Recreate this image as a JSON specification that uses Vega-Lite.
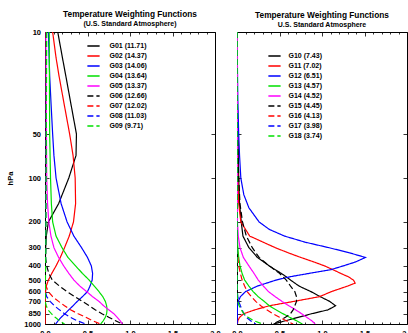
{
  "$schema": "https://vega.github.io/schema/vega-lite/v6.json",
  "background": "white",
  "padding": {"left": 6, "top": 9, "right": 0, "bottom": 0},
  "spacing": 22,
  "bounds": "flush",
  "config": {
    "font": "Liberation Sans",
    "view": {"stroke": "black", "strokeWidth": 1},
    "axis": {"grid": false, "domain": false, "tickColor": "black", "tickWidth": 0.8, "labelColor": "black", "labelFont": "Liberation Sans", "labelFontWeight": "bold", "labelFontSize": 7.5, "titleFont": "Liberation Sans", "titleFontSize": 7.5, "titleFontWeight": "bold", "titleColor": "black"},
    "title": {"font": "Liberation Sans", "fontSize": 8.3, "fontWeight": "bold", "color": "black", "subtitleFont": "Liberation Sans", "subtitleFontSize": 7, "subtitleFontWeight": "bold", "subtitleColor": "black", "subtitlePadding": 2, "offset": 1, "anchor": "middle"},
    "legend": {"labelFont": "Liberation Sans", "labelFontSize": 7, "labelFontWeight": "bold", "labelColor": "black", "symbolType": "stroke", "symbolStrokeWidth": 1.5}
  },
  "datasets": {
    "left": [
      {"c":"G01 (11.71)","p":10,"w":0.15},{"c":"G01 (11.71)","p":15,"w":0.205},{"c":"G01 (11.71)","p":20,"w":0.245},{"c":"G01 (11.71)","p":30,"w":0.3},{"c":"G01 (11.71)","p":50,"w":0.37},{"c":"G01 (11.71)","p":70,"w":0.365},{"c":"G01 (11.71)","p":100,"w":0.28},{"c":"G01 (11.71)","p":150,"w":0.16},{"c":"G01 (11.71)","p":200,"w":0.04},{"c":"G01 (11.71)","p":250,"w":0.015},{"c":"G01 (11.71)","p":300,"w":0.008},{"c":"G01 (11.71)","p":400,"w":0.003},{"c":"G01 (11.71)","p":1000,"w":0.001},
      {"c":"G02 (14.37)","p":10,"w":0.09},{"c":"G02 (14.37)","p":15,"w":0.13},{"c":"G02 (14.37)","p":20,"w":0.165},{"c":"G02 (14.37)","p":30,"w":0.22},{"c":"G02 (14.37)","p":50,"w":0.29},{"c":"G02 (14.37)","p":70,"w":0.33},{"c":"G02 (14.37)","p":100,"w":0.355},{"c":"G02 (14.37)","p":150,"w":0.36},{"c":"G02 (14.37)","p":200,"w":0.335},{"c":"G02 (14.37)","p":250,"w":0.285},{"c":"G02 (14.37)","p":300,"w":0.23},{"c":"G02 (14.37)","p":350,"w":0.18},{"c":"G02 (14.37)","p":400,"w":0.13},{"c":"G02 (14.37)","p":450,"w":0.08},{"c":"G02 (14.37)","p":500,"w":0.04},{"c":"G02 (14.37)","p":550,"w":0.015},{"c":"G02 (14.37)","p":600,"w":0.007},{"c":"G02 (14.37)","p":700,"w":0.003},{"c":"G02 (14.37)","p":1000,"w":0.002},
      {"c":"G03 (14.06)","p":10,"w":0.04},{"c":"G03 (14.06)","p":20,"w":0.055},{"c":"G03 (14.06)","p":30,"w":0.07},{"c":"G03 (14.06)","p":50,"w":0.09},{"c":"G03 (14.06)","p":70,"w":0.105},{"c":"G03 (14.06)","p":100,"w":0.13},{"c":"G03 (14.06)","p":150,"w":0.19},{"c":"G03 (14.06)","p":200,"w":0.26},{"c":"G03 (14.06)","p":250,"w":0.34},{"c":"G03 (14.06)","p":300,"w":0.43},{"c":"G03 (14.06)","p":350,"w":0.5},{"c":"G03 (14.06)","p":400,"w":0.545},{"c":"G03 (14.06)","p":450,"w":0.56},{"c":"G03 (14.06)","p":500,"w":0.555},{"c":"G03 (14.06)","p":550,"w":0.53},{"c":"G03 (14.06)","p":600,"w":0.5},{"c":"G03 (14.06)","p":650,"w":0.44},{"c":"G03 (14.06)","p":700,"w":0.38},{"c":"G03 (14.06)","p":750,"w":0.33},{"c":"G03 (14.06)","p":800,"w":0.28},{"c":"G03 (14.06)","p":850,"w":0.235},{"c":"G03 (14.06)","p":900,"w":0.19},{"c":"G03 (14.06)","p":950,"w":0.155},{"c":"G03 (14.06)","p":1000,"w":0.125},
      {"c":"G04 (13.64)","p":10,"w":0.05},{"c":"G04 (13.64)","p":50,"w":0.055},{"c":"G04 (13.64)","p":100,"w":0.065},{"c":"G04 (13.64)","p":150,"w":0.075},{"c":"G04 (13.64)","p":200,"w":0.09},{"c":"G04 (13.64)","p":250,"w":0.13},{"c":"G04 (13.64)","p":300,"w":0.2},{"c":"G04 (13.64)","p":350,"w":0.27},{"c":"G04 (13.64)","p":400,"w":0.36},{"c":"G04 (13.64)","p":450,"w":0.44},{"c":"G04 (13.64)","p":500,"w":0.52},{"c":"G04 (13.64)","p":550,"w":0.58},{"c":"G04 (13.64)","p":600,"w":0.635},{"c":"G04 (13.64)","p":650,"w":0.68},{"c":"G04 (13.64)","p":700,"w":0.71},{"c":"G04 (13.64)","p":750,"w":0.725},{"c":"G04 (13.64)","p":800,"w":0.73},{"c":"G04 (13.64)","p":850,"w":0.725},{"c":"G04 (13.64)","p":900,"w":0.71},{"c":"G04 (13.64)","p":950,"w":0.685},{"c":"G04 (13.64)","p":1000,"w":0.655},
      {"c":"G05 (13.37)","p":10,"w":0.01},{"c":"G05 (13.37)","p":100,"w":0.02},{"c":"G05 (13.37)","p":150,"w":0.03},{"c":"G05 (13.37)","p":200,"w":0.045},{"c":"G05 (13.37)","p":250,"w":0.07},{"c":"G05 (13.37)","p":300,"w":0.105},{"c":"G05 (13.37)","p":350,"w":0.16},{"c":"G05 (13.37)","p":400,"w":0.22},{"c":"G05 (13.37)","p":450,"w":0.28},{"c":"G05 (13.37)","p":500,"w":0.34},{"c":"G05 (13.37)","p":550,"w":0.41},{"c":"G05 (13.37)","p":600,"w":0.49},{"c":"G05 (13.37)","p":650,"w":0.56},{"c":"G05 (13.37)","p":700,"w":0.635},{"c":"G05 (13.37)","p":750,"w":0.69},{"c":"G05 (13.37)","p":800,"w":0.75},{"c":"G05 (13.37)","p":850,"w":0.81},{"c":"G05 (13.37)","p":900,"w":0.85},{"c":"G05 (13.37)","p":950,"w":0.885},{"c":"G05 (13.37)","p":1000,"w":0.91},
      {"c":"G06 (12.66)","p":10,"w":0.005},{"c":"G06 (12.66)","p":350,"w":0.005},{"c":"G06 (12.66)","p":400,"w":0.02},{"c":"G06 (12.66)","p":450,"w":0.045},{"c":"G06 (12.66)","p":500,"w":0.085},{"c":"G06 (12.66)","p":550,"w":0.17},{"c":"G06 (12.66)","p":600,"w":0.26},{"c":"G06 (12.66)","p":650,"w":0.35},{"c":"G06 (12.66)","p":700,"w":0.44},{"c":"G06 (12.66)","p":750,"w":0.52},{"c":"G06 (12.66)","p":800,"w":0.59},{"c":"G06 (12.66)","p":850,"w":0.67},{"c":"G06 (12.66)","p":900,"w":0.75},{"c":"G06 (12.66)","p":950,"w":0.83},{"c":"G06 (12.66)","p":1000,"w":0.91},
      {"c":"G07 (12.02)","p":10,"w":0.01},{"c":"G07 (12.02)","p":300,"w":0.006},{"c":"G07 (12.02)","p":500,"w":0.003},{"c":"G07 (12.02)","p":550,"w":0.012},{"c":"G07 (12.02)","p":600,"w":0.04},{"c":"G07 (12.02)","p":650,"w":0.09},{"c":"G07 (12.02)","p":700,"w":0.16},{"c":"G07 (12.02)","p":750,"w":0.23},{"c":"G07 (12.02)","p":800,"w":0.3},{"c":"G07 (12.02)","p":850,"w":0.39},{"c":"G07 (12.02)","p":900,"w":0.48},{"c":"G07 (12.02)","p":950,"w":0.56},{"c":"G07 (12.02)","p":1000,"w":0.65},
      {"c":"G08 (11.03)","p":10,"w":0.015},{"c":"G08 (11.03)","p":300,"w":0.008},{"c":"G08 (11.03)","p":600,"w":0.003},{"c":"G08 (11.03)","p":650,"w":0.02},{"c":"G08 (11.03)","p":700,"w":0.06},{"c":"G08 (11.03)","p":750,"w":0.11},{"c":"G08 (11.03)","p":800,"w":0.17},{"c":"G08 (11.03)","p":850,"w":0.23},{"c":"G08 (11.03)","p":900,"w":0.3},{"c":"G08 (11.03)","p":950,"w":0.38},{"c":"G08 (11.03)","p":1000,"w":0.48},
      {"c":"G09 (9.71)","p":10,"w":0.02},{"c":"G09 (9.71)","p":300,"w":0.01},{"c":"G09 (9.71)","p":700,"w":0.002},{"c":"G09 (9.71)","p":750,"w":0.015},{"c":"G09 (9.71)","p":800,"w":0.035},{"c":"G09 (9.71)","p":850,"w":0.075},{"c":"G09 (9.71)","p":900,"w":0.12},{"c":"G09 (9.71)","p":950,"w":0.17},{"c":"G09 (9.71)","p":1000,"w":0.23}
    ],
    "right": [
      {"c":"G10 (7.43)","p":10,"w":0},{"c":"G10 (7.43)","p":30,"w":0.005},{"c":"G10 (7.43)","p":50,"w":0.01},{"c":"G10 (7.43)","p":100,"w":0.02},{"c":"G10 (7.43)","p":150,"w":0.03},{"c":"G10 (7.43)","p":200,"w":0.05},{"c":"G10 (7.43)","p":250,"w":0.07},{"c":"G10 (7.43)","p":300,"w":0.14},{"c":"G10 (7.43)","p":350,"w":0.24},{"c":"G10 (7.43)","p":400,"w":0.38},{"c":"G10 (7.43)","p":425,"w":0.45},{"c":"G10 (7.43)","p":450,"w":0.52},{"c":"G10 (7.43)","p":475,"w":0.58},{"c":"G10 (7.43)","p":500,"w":0.63},{"c":"G10 (7.43)","p":550,"w":0.73},{"c":"G10 (7.43)","p":600,"w":0.87},{"c":"G10 (7.43)","p":650,"w":0.98},{"c":"G10 (7.43)","p":700,"w":1.09},{"c":"G10 (7.43)","p":750,"w":1.16},{"c":"G10 (7.43)","p":800,"w":1.07},{"c":"G10 (7.43)","p":850,"w":0.88},{"c":"G10 (7.43)","p":900,"w":0.72},{"c":"G10 (7.43)","p":950,"w":0.57},{"c":"G10 (7.43)","p":1000,"w":0.43},
      {"c":"G11 (7.02)","p":10,"w":0},{"c":"G11 (7.02)","p":50,"w":0.005},{"c":"G11 (7.02)","p":100,"w":0.01},{"c":"G11 (7.02)","p":150,"w":0.02},{"c":"G11 (7.02)","p":200,"w":0.045},{"c":"G11 (7.02)","p":250,"w":0.15},{"c":"G11 (7.02)","p":300,"w":0.45},{"c":"G11 (7.02)","p":325,"w":0.6},{"c":"G11 (7.02)","p":350,"w":0.75},{"c":"G11 (7.02)","p":375,"w":0.9},{"c":"G11 (7.02)","p":400,"w":1.03},{"c":"G11 (7.02)","p":425,"w":1.13},{"c":"G11 (7.02)","p":450,"w":1.22},{"c":"G11 (7.02)","p":475,"w":1.31},{"c":"G11 (7.02)","p":500,"w":1.37},{"c":"G11 (7.02)","p":525,"w":1.39},{"c":"G11 (7.02)","p":550,"w":1.3},{"c":"G11 (7.02)","p":600,"w":1.11},{"c":"G11 (7.02)","p":650,"w":0.97},{"c":"G11 (7.02)","p":700,"w":0.67},{"c":"G11 (7.02)","p":750,"w":0.38},{"c":"G11 (7.02)","p":800,"w":0.21},{"c":"G11 (7.02)","p":850,"w":0.08},{"c":"G11 (7.02)","p":900,"w":0.03},{"c":"G11 (7.02)","p":950,"w":0.01},{"c":"G11 (7.02)","p":1000,"w":0.005},
      {"c":"G12 (6.51)","p":10,"w":0},{"c":"G12 (6.51)","p":30,"w":0.01},{"c":"G12 (6.51)","p":50,"w":0.02},{"c":"G12 (6.51)","p":70,"w":0.03},{"c":"G12 (6.51)","p":100,"w":0.045},{"c":"G12 (6.51)","p":130,"w":0.08},{"c":"G12 (6.51)","p":160,"w":0.14},{"c":"G12 (6.51)","p":200,"w":0.26},{"c":"G12 (6.51)","p":225,"w":0.38},{"c":"G12 (6.51)","p":250,"w":0.56},{"c":"G12 (6.51)","p":275,"w":0.8},{"c":"G12 (6.51)","p":300,"w":1.08},{"c":"G12 (6.51)","p":325,"w":1.32},{"c":"G12 (6.51)","p":350,"w":1.51},{"c":"G12 (6.51)","p":375,"w":1.4},{"c":"G12 (6.51)","p":400,"w":1.25},{"c":"G12 (6.51)","p":425,"w":1.1},{"c":"G12 (6.51)","p":450,"w":0.85},{"c":"G12 (6.51)","p":475,"w":0.62},{"c":"G12 (6.51)","p":500,"w":0.46},{"c":"G12 (6.51)","p":550,"w":0.24},{"c":"G12 (6.51)","p":600,"w":0.1},{"c":"G12 (6.51)","p":650,"w":0.04},{"c":"G12 (6.51)","p":700,"w":0.015},{"c":"G12 (6.51)","p":750,"w":0.005},{"c":"G12 (6.51)","p":1000,"w":0.003},
      {"c":"G13 (4.57)","p":10,"w":0.002},{"c":"G13 (4.57)","p":250,"w":0.003},{"c":"G13 (4.57)","p":300,"w":0.01},{"c":"G13 (4.57)","p":350,"w":0.02},{"c":"G13 (4.57)","p":400,"w":0.035},{"c":"G13 (4.57)","p":450,"w":0.06},{"c":"G13 (4.57)","p":500,"w":0.09},{"c":"G13 (4.57)","p":550,"w":0.14},{"c":"G13 (4.57)","p":600,"w":0.19},{"c":"G13 (4.57)","p":650,"w":0.25},{"c":"G13 (4.57)","p":700,"w":0.32},{"c":"G13 (4.57)","p":750,"w":0.38},{"c":"G13 (4.57)","p":800,"w":0.46},{"c":"G13 (4.57)","p":850,"w":0.54},{"c":"G13 (4.57)","p":900,"w":0.62},{"c":"G13 (4.57)","p":950,"w":0.7},{"c":"G13 (4.57)","p":1000,"w":0.77},
      {"c":"G14 (4.52)","p":10,"w":0.003},{"c":"G14 (4.52)","p":200,"w":0.005},{"c":"G14 (4.52)","p":250,"w":0.015},{"c":"G14 (4.52)","p":300,"w":0.035},{"c":"G14 (4.52)","p":350,"w":0.075},{"c":"G14 (4.52)","p":400,"w":0.14},{"c":"G14 (4.52)","p":450,"w":0.2},{"c":"G14 (4.52)","p":500,"w":0.25},{"c":"G14 (4.52)","p":550,"w":0.31},{"c":"G14 (4.52)","p":600,"w":0.37},{"c":"G14 (4.52)","p":650,"w":0.45},{"c":"G14 (4.52)","p":700,"w":0.53},{"c":"G14 (4.52)","p":750,"w":0.61},{"c":"G14 (4.52)","p":800,"w":0.69},{"c":"G14 (4.52)","p":850,"w":0.76},{"c":"G14 (4.52)","p":900,"w":0.82},{"c":"G14 (4.52)","p":950,"w":0.88},{"c":"G14 (4.52)","p":1000,"w":0.92},
      {"c":"G15 (4.45)","p":10,"w":0},{"c":"G15 (4.45)","p":50,"w":0.005},{"c":"G15 (4.45)","p":100,"w":0.02},{"c":"G15 (4.45)","p":150,"w":0.035},{"c":"G15 (4.45)","p":200,"w":0.065},{"c":"G15 (4.45)","p":250,"w":0.11},{"c":"G15 (4.45)","p":300,"w":0.18},{"c":"G15 (4.45)","p":350,"w":0.26},{"c":"G15 (4.45)","p":400,"w":0.38},{"c":"G15 (4.45)","p":450,"w":0.5},{"c":"G15 (4.45)","p":500,"w":0.58},{"c":"G15 (4.45)","p":550,"w":0.63},{"c":"G15 (4.45)","p":600,"w":0.68},{"c":"G15 (4.45)","p":650,"w":0.7},{"c":"G15 (4.45)","p":700,"w":0.7},{"c":"G15 (4.45)","p":750,"w":0.68},{"c":"G15 (4.45)","p":800,"w":0.66},{"c":"G15 (4.45)","p":850,"w":0.63},{"c":"G15 (4.45)","p":900,"w":0.57},{"c":"G15 (4.45)","p":950,"w":0.5},{"c":"G15 (4.45)","p":1000,"w":0.42},
      {"c":"G16 (4.13)","p":10,"w":0.002},{"c":"G16 (4.13)","p":300,"w":0.003},{"c":"G16 (4.13)","p":350,"w":0.01},{"c":"G16 (4.13)","p":400,"w":0.02},{"c":"G16 (4.13)","p":450,"w":0.04},{"c":"G16 (4.13)","p":500,"w":0.06},{"c":"G16 (4.13)","p":550,"w":0.09},{"c":"G16 (4.13)","p":600,"w":0.12},{"c":"G16 (4.13)","p":650,"w":0.17},{"c":"G16 (4.13)","p":700,"w":0.22},{"c":"G16 (4.13)","p":750,"w":0.28},{"c":"G16 (4.13)","p":800,"w":0.35},{"c":"G16 (4.13)","p":850,"w":0.42},{"c":"G16 (4.13)","p":900,"w":0.5},{"c":"G16 (4.13)","p":950,"w":0.58},{"c":"G16 (4.13)","p":1000,"w":0.66},
      {"c":"G17 (3.98)","p":10,"w":0.002},{"c":"G17 (3.98)","p":600,"w":0.003},{"c":"G17 (3.98)","p":650,"w":0.01},{"c":"G17 (3.98)","p":700,"w":0.02},{"c":"G17 (3.98)","p":750,"w":0.04},{"c":"G17 (3.98)","p":800,"w":0.06},{"c":"G17 (3.98)","p":850,"w":0.08},{"c":"G17 (3.98)","p":900,"w":0.11},{"c":"G17 (3.98)","p":950,"w":0.16},{"c":"G17 (3.98)","p":1000,"w":0.22},
      {"c":"G18 (3.74)","p":10,"w":0.002},{"c":"G18 (3.74)","p":650,"w":0.002},{"c":"G18 (3.74)","p":700,"w":0.01},{"c":"G18 (3.74)","p":750,"w":0.025},{"c":"G18 (3.74)","p":800,"w":0.05},{"c":"G18 (3.74)","p":850,"w":0.08},{"c":"G18 (3.74)","p":900,"w":0.13},{"c":"G18 (3.74)","p":950,"w":0.2},{"c":"G18 (3.74)","p":1000,"w":0.3}
    ]
  },
  "hconcat": [
    {
      "width": 170,
      "height": 292,
      "title": {"text": "Temperature Weighting Functions", "subtitle": "(U.S. Standard Atmosphere)"},
      "data": {"name": "left"},
      "layer": [
        {
          "mark": {"type": "line", "strokeWidth": 1.2, "clip": true},
          "encoding": {
            "x": {"field": "w", "type": "quantitative", "scale": {"domain": [0, 2], "nice": false},
              "axis": {"title": null, "values": [0,0.1,0.2,0.3,0.4,0.5,0.6,0.7,0.8,0.9,1,1.1,1.2,1.3,1.4,1.5,1.6,1.7,1.8,1.9,2], "labelExpr": "datum.value % 0.5 === 0 ? format(datum.value, '.1f') : ''", "tickSize": {"condition": {"test": "datum.value % 0.5 === 0", "value": -4}, "value": -2}, "labelPadding": 9, "labelFlush": false, "labelOverlap": false}},
            "y": {"field": "p", "type": "quantitative", "scale": {"type": "log", "domain": [10, 1000], "reverse": true, "nice": false},
              "axis": {"title": "hPa", "values": [10,50,100,200,300,400,500,600,700,850,1000], "format": "d", "tickSize": -4, "labelPadding": 8.5, "titlePadding": 9, "labelOverlap": false}},
            "color": {"field": "c", "type": "nominal",
              "scale": {"domain": ["G01 (11.71)","G02 (14.37)","G03 (14.06)","G04 (13.64)","G05 (13.37)","G06 (12.66)","G07 (12.02)","G08 (11.03)","G09 (9.71)"], "range": ["#000000","#ff0000","#0000ff","#00e000","#ff00ff","#000000","#ff0000","#0000ff","#00e000"]},
              "legend": {"title": null, "orient": "none", "legendX": 41.5, "legendY": 7, "symbolSize": 150, "rowPadding": 0, "labelOffset": 9}},
            "strokeDash": {"field": "c", "type": "nominal",
              "scale": {"domain": ["G01 (11.71)","G02 (14.37)","G03 (14.06)","G04 (13.64)","G05 (13.37)","G06 (12.66)","G07 (12.02)","G08 (11.03)","G09 (9.71)"], "range": [[1,0],[1,0],[1,0],[1,0],[1,0],[6,3],[6,3],[6,3],[6,3]]},
              "legend": {"title": null, "orient": "none", "legendX": 41.5, "legendY": 7, "symbolSize": 150, "rowPadding": 0, "labelOffset": 9}},
            "order": {"field": "p", "type": "quantitative"}
          }
        },
        {
          "mark": {"type": "point", "opacity": 0},
          "encoding": {
            "x": {"field": "w", "type": "quantitative", "axis": {"orient": "top", "title": null, "labels": false, "values": [0,0.1,0.2,0.3,0.4,0.5,0.6,0.7,0.8,0.9,1,1.1,1.2,1.3,1.4,1.5,1.6,1.7,1.8,1.9,2], "tickSize": {"condition": {"test": "datum.value % 0.5 === 0", "value": -4}, "value": -2}}},
            "y": {"field": "p", "type": "quantitative", "axis": {"orient": "right", "title": null, "labels": false, "values": [10,50,100,200,300,400,500,600,700,850,1000], "tickSize": -4}}
          }
        }
      ],
      "resolve": {"axis": {"x": "independent", "y": "independent"}}
    },
    {
      "width": 170,
      "height": 292,
      "title": {"text": "Temperature Weighting Functions", "subtitle": "U.S. Standard Atmosphere"},
      "data": {"name": "right"},
      "layer": [
        {
          "mark": {"type": "line", "strokeWidth": 1.2, "clip": true},
          "encoding": {
            "x": {"field": "w", "type": "quantitative", "scale": {"domain": [0, 2], "nice": false},
              "axis": {"title": null, "values": [0,0.1,0.2,0.3,0.4,0.5,0.6,0.7,0.8,0.9,1,1.1,1.2,1.3,1.4,1.5,1.6,1.7,1.8,1.9,2], "labelExpr": "datum.value % 0.5 === 0 ? format(datum.value, '.1f') : ''", "tickSize": {"condition": {"test": "datum.value % 0.5 === 0", "value": -4}, "value": -2}, "labelPadding": 9, "labelFlush": false, "labelOverlap": false}},
            "y": {"field": "p", "type": "quantitative", "scale": {"type": "log", "domain": [10, 1000], "reverse": true, "nice": false},
              "axis": {"title": null, "labels": false, "values": [10,50,100,200,300,400,500,600,700,850,1000], "tickSize": -4}},
            "color": {"field": "c", "type": "nominal",
              "scale": {"domain": ["G10 (7.43)","G11 (7.02)","G12 (6.51)","G13 (4.57)","G14 (4.52)","G15 (4.45)","G16 (4.13)","G17 (3.98)","G18 (3.74)"], "range": ["#000000","#ff0000","#0000ff","#00e000","#ff00ff","#000000","#ff0000","#0000ff","#00e000"]},
              "legend": {"title": null, "orient": "none", "legendX": 30.5, "legendY": 17, "symbolSize": 150, "rowPadding": 0, "labelOffset": 7}},
            "strokeDash": {"field": "c", "type": "nominal",
              "scale": {"domain": ["G10 (7.43)","G11 (7.02)","G12 (6.51)","G13 (4.57)","G14 (4.52)","G15 (4.45)","G16 (4.13)","G17 (3.98)","G18 (3.74)"], "range": [[1,0],[1,0],[1,0],[1,0],[1,0],[6,3],[6,3],[6,3],[6,3]]},
              "legend": {"title": null, "orient": "none", "legendX": 30.5, "legendY": 17, "symbolSize": 150, "rowPadding": 0, "labelOffset": 7}},
            "order": {"field": "p", "type": "quantitative"}
          }
        },
        {
          "mark": {"type": "point", "opacity": 0},
          "encoding": {
            "x": {"field": "w", "type": "quantitative", "axis": {"orient": "top", "title": null, "labels": false, "values": [0,0.1,0.2,0.3,0.4,0.5,0.6,0.7,0.8,0.9,1,1.1,1.2,1.3,1.4,1.5,1.6,1.7,1.8,1.9,2], "tickSize": {"condition": {"test": "datum.value % 0.5 === 0", "value": -4}, "value": -2}}},
            "y": {"field": "p", "type": "quantitative", "axis": {"orient": "right", "title": null, "labels": false, "values": [10,50,100,200,300,400,500,600,700,850,1000], "tickSize": -4}}
          }
        }
      ],
      "resolve": {"axis": {"x": "independent", "y": "independent"}}
    }
  ],
  "resolve": {"scale": {"x": "independent", "y": "independent", "color": "independent", "strokeDash": "independent"}, "axis": {"x": "independent", "y": "independent"}}
}
